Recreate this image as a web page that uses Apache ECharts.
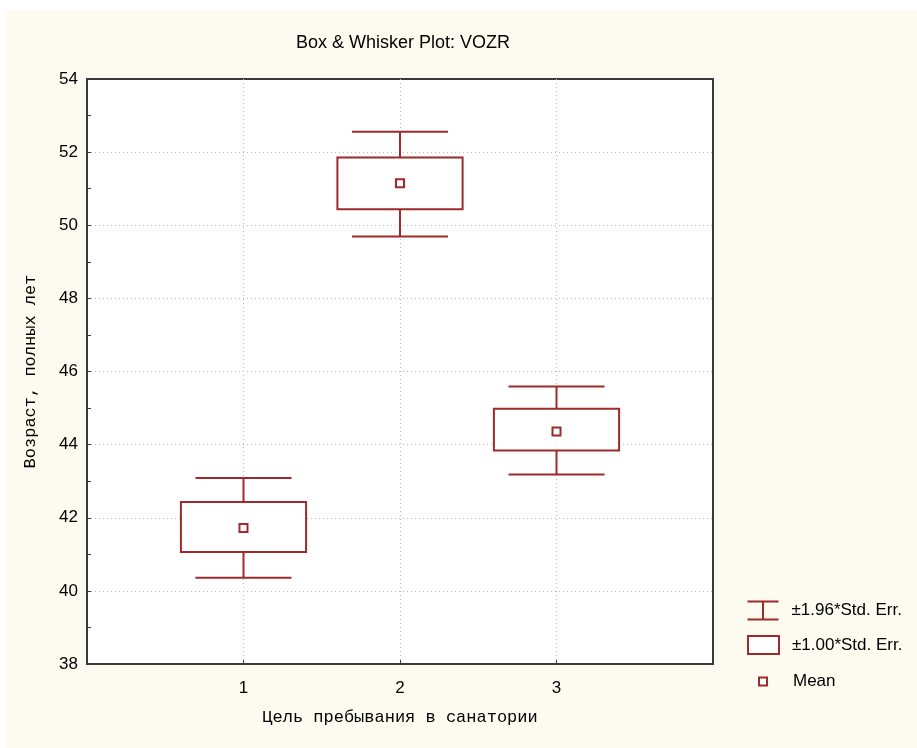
<!DOCTYPE html>
<html>
<head>
<meta charset="utf-8">
<script src="https://cdn.jsdelivr.net/npm/echarts@6/dist/echarts.min.js"></script>
<style>
  html, body { margin: 0; padding: 0; background: #fff; }
  #chart { width: 917px; height: 748px; }
</style>
</head>
<body>
<div id="chart"></div>
<script>
// группы (ось X)
var groups = [1, 2, 3];
// средние
var means = [41.72, 51.15, 44.36];
// ±1.00*Std. Err.
var se1Low = [41.06, 50.44, 43.84];
var se1High = [42.43, 51.85, 44.98];
// ±1.96*Std. Err.
var se196Low = [40.36, 49.69, 43.18];
var se196High = [43.09, 52.56, 45.59];
var yTicks = [38, 40, 42, 44, 46, 48, 50, 52, 54];

var red = '#9E2A2B';
var sans = '"Liberation Sans", Arial, sans-serif';
var mono = '"Liberation Mono", "DejaVu Sans Mono", monospace';

var chart = echarts.init(document.getElementById('chart'));

var whiskerData = groups.map(function (g, i) { return [g, se196Low[i], se196High[i]]; });
var boxData = groups.map(function (g, i) { return [g, se1Low[i], se1High[i]]; });
var meanData = groups.map(function (g, i) { return [g, means[i]]; });

// усы ±1.96
function renderWhisker(params, api) {
  var x = api.value(0);
  var lo = api.coord([x, api.value(1)]);
  var hi = api.coord([x, api.value(2)]);
  var half = api.size([0.307, 0])[0];
  var style = { stroke: red, lineWidth: 2, fill: null };
  return {
    type: 'group',
    children: [
      { type: 'line', shape: { x1: lo[0], y1: lo[1], x2: hi[0], y2: hi[1] }, style: style },
      { type: 'line', shape: { x1: hi[0] - half, y1: hi[1], x2: hi[0] + half, y2: hi[1] }, style: style },
      { type: 'line', shape: { x1: lo[0] - half, y1: lo[1], x2: lo[0] + half, y2: lo[1] }, style: style }
    ]
  };
}

// ящик ±1.00
function renderBox(params, api) {
  var x = api.value(0);
  var lo = api.coord([x, api.value(1)]);
  var hi = api.coord([x, api.value(2)]);
  var half = api.size([0.4, 0])[0];
  return {
    type: 'rect',
    shape: { x: lo[0] - half, y: hi[1], width: half * 2, height: lo[1] - hi[1] },
    style: { fill: '#fff', stroke: red, lineWidth: 2 }
  };
}

var legendText = { fontFamily: sans, fontSize: 17, color: '#000' };
var gridLine = { show: true, showMinLine: false, showMaxLine: false,
  lineStyle: { color: '#bbb', type: [1, 3], width: 1 } };

var option = {
  backgroundColor: '#fff',
  animation: false,
  graphic: [{
    type: 'rect', z: -10, silent: true,
    shape: { x: 5, y: 10, width: 912, height: 738 },
    style: { fill: '#FDFBF0' }
  }],
  title: {
    text: 'Box & Whisker Plot: VOZR',
    left: 398, top: 29, textAlign: 'center',
    textStyle: { fontFamily: sans, fontSize: 18, fontWeight: 'normal', color: '#000' }
  },
  legend: [{
    orient: 'vertical', left: 745, top: 599, padding: 0, itemWidth: 31, itemHeight: 18,
    selectedMode: false,
    textStyle: Object.assign({ padding: [0, 0, 0, 8] }, legendText),
    data: [{
      name: '±1.96*Std. Err.',
      icon: 'path://M0 0 H31 M15.5 0 V18 M0 18 H31',
      itemStyle: { color: 'none', borderColor: red, borderWidth: 2 }
    }]
  }, {
    orient: 'vertical', left: 747, top: 635, padding: 0, itemWidth: 31, itemHeight: 18,
    selectedMode: false,
    textStyle: Object.assign({ padding: [0, 0, 0, 8] }, legendText),
    data: [{
      name: '±1.00*Std. Err.',
      icon: 'rect',
      itemStyle: { color: '#fff', borderColor: red, borderWidth: 2 }
    }]
  }, {
    orient: 'vertical', left: 758, top: 673, padding: 0, itemWidth: 8, itemHeight: 8,
    selectedMode: false,
    textStyle: Object.assign({ padding: [0, 0, 0, 21] }, legendText),
    data: [{
      name: 'Mean',
      icon: 'rect',
      itemStyle: { color: '#fff', borderColor: red, borderWidth: 2 }
    }]
  }],
  grid: {
    left: 87, right: 204, top: 79, bottom: 84,
    show: true, backgroundColor: '#fff', borderColor: '#3a3a3a', borderWidth: 2
  },
  xAxis: {
    type: 'value', min: 0, max: 4, interval: 1,
    name: 'Цель пребывания в санатории',
    nameLocation: 'middle', nameGap: 45,
    nameTextStyle: { fontFamily: mono, fontSize: 17, color: '#000' },
    axisLine: { show: true, lineStyle: { color: '#3a3a3a', width: 2 } },
    axisTick: { show: true, inside: true, length: 4, lineStyle: { color: '#3a3a3a' } },
    axisLabel: {
      margin: 16, fontFamily: sans, fontSize: 17, color: '#000',
      formatter: function (v) { return groups.indexOf(v) >= 0 ? String(v) : ''; }
    },
    splitLine: gridLine
  },
  yAxis: {
    type: 'value', min: yTicks[0], max: yTicks[yTicks.length - 1], interval: 2,
    name: 'Возраст, полных лет',
    nameLocation: 'middle', nameGap: 48, nameRotate: 90,
    nameTextStyle: { fontFamily: mono, fontSize: 17, color: '#000' },
    axisLine: { show: true, lineStyle: { color: '#3a3a3a', width: 2 } },
    axisTick: { show: true, inside: true, length: 4, lineStyle: { color: '#3a3a3a' } },
    minorTick: { show: true, splitNumber: 2, length: 4, lineStyle: { color: '#3a3a3a' } },
    axisLabel: { margin: 9, fontFamily: sans, fontSize: 17, color: '#000' },
    splitLine: gridLine
  },
  series: [{
    name: '±1.96*Std. Err.',
    type: 'custom',
    renderItem: renderWhisker,
    encode: { x: 0, y: [1, 2] },
    data: whiskerData,
    z: 2
  }, {
    name: '±1.00*Std. Err.',
    type: 'custom',
    renderItem: renderBox,
    encode: { x: 0, y: [1, 2] },
    data: boxData,
    z: 3
  }, {
    name: 'Mean',
    type: 'scatter',
    symbol: 'rect',
    symbolSize: 8,
    itemStyle: { color: '#fff', borderColor: red, borderWidth: 2, opacity: 1 },
    data: meanData,
    z: 4
  }]
};

chart.setOption(option);
</script>
</body>
</html>
